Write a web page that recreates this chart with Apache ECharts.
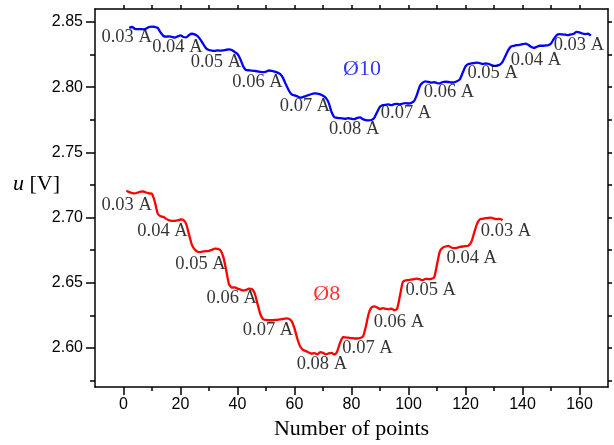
<!DOCTYPE html>
<html><head><meta charset="utf-8">
<script src="https://cdn.jsdelivr.net/npm/echarts@6/dist/echarts.min.js"></script>
<style>html,body{margin:0;padding:0;background:#fff}#c{width:614px;height:445px}</style>
</head><body><div id="c"></div>
<script>
// ---- data ----
const blueStart = 2;
const blueValues = [
 2.8455,2.8462,2.8448,2.8445,2.8446,2.8444,2.8450,2.8462,2.8465,2.8462,
 2.8455,2.8420,2.8393,2.8388,2.8390,2.8386,2.8380,2.8390,2.8398,2.8385,
 2.8382,2.8400,2.8410,2.8405,2.8392,2.8365,2.8330,2.8298,2.8285,2.8280,
 2.8278,2.8282,2.8280,2.8283,2.8287,2.8290,2.8285,2.8270,2.8255,2.8215,
 2.8160,2.8132,2.8130,2.8128,2.8125,2.8122,2.8118,2.8115,2.8120,2.8128,
 2.8126,2.8120,2.8112,2.8100,2.8070,2.8020,2.7975,2.7945,2.7938,2.7930,
 2.7920,2.7925,2.7932,2.7940,2.7948,2.7952,2.7950,2.7945,2.7935,2.7918,
 2.7880,2.7810,2.7770,2.7765,2.7762,2.7760,2.7758,2.7762,2.7758,2.7755,
 2.7765,2.7768,2.7755,2.7748,2.7745,2.7748,2.7765,2.7810,2.7850,2.7862,
 2.7865,2.7868,2.7862,2.7870,2.7872,2.7868,2.7875,2.7878,2.7875,2.7880,
 2.7895,2.7945,2.8010,2.8035,2.8045,2.8040,2.8035,2.8038,2.8032,2.8030,
 2.8040,2.8042,2.8040,2.8036,2.8038,2.8045,2.8060,2.8110,2.8160,2.8178,
 2.8182,2.8185,2.8188,2.8185,2.8178,2.8182,2.8180,2.8170,2.8163,2.8165,
 2.8172,2.8195,2.8240,2.8285,2.8312,2.8318,2.8322,2.8325,2.8330,2.8335,
 2.8325,2.8310,2.8302,2.8310,2.8318,2.8318,2.8320,2.8322,2.8335,2.8370,
 2.8400,2.8408,2.8405,2.8403,2.8400,2.8405,2.8410,2.8425,2.8420,2.8412,
 2.8408,2.8410,2.8395
];
const redStart = 1;
const redValues = [
 2.7205,2.7195,2.7188,2.7186,2.7192,2.7198,2.7200,2.7192,2.7185,2.7182,
 2.7120,2.7030,2.7010,2.7005,2.6990,2.6978,2.6975,2.6975,2.6978,2.6985,
 2.6982,2.6950,2.6870,2.6790,2.6755,2.6738,2.6735,2.6740,2.6742,2.6745,
 2.6752,2.6762,2.6760,2.6750,2.6700,2.6600,2.6490,2.6462,2.6465,2.6455,
 2.6448,2.6440,2.6445,2.6455,2.6452,2.6420,2.6340,2.6260,2.6220,2.6215,
 2.6212,2.6212,2.6214,2.6215,2.6218,2.6222,2.6226,2.6224,2.6205,2.6150,
 2.6070,2.6010,2.5985,2.5975,2.5965,2.5955,2.5960,2.5950,2.5968,2.5962,
 2.5950,2.5958,2.5962,2.5950,2.5975,2.6040,2.6082,2.6080,2.6078,2.6075,
 2.6072,2.6072,2.6076,2.6085,2.6160,2.6260,2.6310,2.6318,2.6310,2.6298,
 2.6305,2.6300,2.6296,2.6302,2.6288,2.6300,2.6400,2.6505,2.6518,2.6520,
 2.6524,2.6528,2.6532,2.6526,2.6520,2.6530,2.6528,2.6530,2.6540,2.6640,
 2.6740,2.6770,2.6778,2.6782,2.6770,2.6765,2.6768,2.6775,2.6778,2.6780,
 2.6785,2.6810,2.6880,2.6950,2.6985,2.6990,2.6995,2.6998,2.7000,2.6992,
 2.6988,2.6990,2.6980
];
const currentLabels = ['0.03 A','0.04 A','0.05 A','0.06 A','0.07 A','0.08 A','0.07 A','0.06 A','0.05 A','0.04 A','0.03 A'];
const blueLabelX = [1.1,18.9,32.4,47.0,63.7,80.9,99.1,114.2,129.5,144.7,159.8];
const blueLabelY = [2.8386,2.8309,2.8194,2.8040,2.7852,2.7682,2.7798,2.7963,2.8105,2.8205,2.8321];
const redLabelX = [1.1,13.7,27.0,38.0,50.7,69.6,85.6,96.6,107.8,122.2,134.2];
const redLabelY = [2.7098,2.6892,2.6644,2.6382,2.6136,2.5875,2.5998,2.6200,2.6444,2.6688,2.6892];
const seriesNames = ['Ø10','Ø8'];
const seriesNameX = [83.7, 71.3];
const seriesNameY = [2.8136, 2.6413];
const xMajorTicks = [0,20,40,60,80,100,120,140,160];
const xMinorTicks = [10,30,50,70,90,110,130,150];
const yMajorTicks = [2.60,2.65,2.70,2.75,2.80,2.85];
const yMinorTicks = [2.575,2.625,2.675,2.725,2.775,2.825];
const xTitle = 'Number of points';

// ---- chart ----
const X_MIN = -10, X_MAX = 170, Y_MIN = 2.57, Y_MAX = 2.86;
const serif = 'Liberation Serif';
const sans = 'Liberation Sans';
const black = '#000';
function xAx(pos, ticks, len, showLine, showLabels, extra) {
  return Object.assign({
    type: 'value', position: pos, min: X_MIN, max: X_MAX,
    axisLine: {show: showLine, onZero: false, lineStyle: {color: black, width: 1.5}},
    axisTick: {show: true, customValues: ticks, length: len, inside: false, lineStyle: {color: black, width: 1.5}},
    axisLabel: showLabels ? {show: true, customValues: ticks, color: black, fontFamily: sans, fontSize: 16, margin: 10} : {show: false},
    splitLine: {show: false}
  }, extra || {});
}
function yAx(pos, ticks, len, showLine, showLabels) {
  return {
    type: 'value', position: pos, min: Y_MIN, max: Y_MAX,
    axisLine: {show: showLine, onZero: false, lineStyle: {color: black, width: 1.5}},
    axisTick: {show: true, customValues: ticks, length: len, inside: false, lineStyle: {color: black, width: 1.5}},
    axisLabel: showLabels ? {show: true, customValues: ticks, color: black, fontFamily: sans, fontSize: 16, margin: 12,
      formatter: v => v.toFixed(2)} : {show: false},
    splitLine: {show: false}
  };
}
const allX = xMajorTicks.concat(xMinorTicks);
const allY = yMajorTicks.concat(yMinorTicks);
const labelData = [];
currentLabels.forEach((t, i) => labelData.push([blueLabelX[i], blueLabelY[i], t]));
currentLabels.forEach((t, i) => labelData.push([redLabelX[i], redLabelY[i], t]));

const chart = echarts.init(document.getElementById('c'), null, {renderer: 'canvas'});
chart.setOption({
  animation: false,
  backgroundColor: '#fff',
  grid: {left: 95, right: 6, top: 9, bottom: 58, containLabel: false},
  xAxis: [
    xAx('bottom', xMajorTicks, 8, true, true, {
      name: xTitle, nameLocation: 'middle', nameGap: 29,
      nameTextStyle: {color: black, fontFamily: serif, fontSize: 22}
    }),
    xAx('bottom', xMinorTicks, 4, false, false),
    xAx('top', allX, 4, true, false)
  ],
  yAxis: [
    yAx('left', yMajorTicks, 9, true, true),
    yAx('left', yMinorTicks, 5, false, false),
    yAx('right', allY, 4, true, false)
  ],
  graphic: [{
    type: 'text', left: 13, top: 173,
    style: {
      text: '{i|u} [V]', fill: black, font: '22px "Liberation Serif"',
      rich: {i: {fontStyle: 'italic', fontFamily: serif, fontSize: 22, fill: black}}
    }
  }],
  series: [
    {type: 'line', name: 'Ø10', xAxisIndex: 0, yAxisIndex: 0, showSymbol: false, symbol: 'none',
     smooth: 0.2, lineStyle: {color: '#0000ff', width: 2.3}, z: 3,
     data: blueValues.map((v, i) => [blueStart + i, v])},
    {type: 'line', name: 'Ø8', xAxisIndex: 0, yAxisIndex: 0, showSymbol: false, symbol: 'none',
     smooth: 0.2, lineStyle: {color: '#ff0000', width: 2.3}, z: 3,
     data: redValues.map((v, i) => [redStart + i, v])},
    {type: 'scatter', xAxisIndex: 0, yAxisIndex: 0, symbolSize: 1, silent: true, z: 5,
     itemStyle: {color: 'rgba(0,0,0,0)'},
     label: {show: true, position: 'inside', formatter: p => p.value[2], color: black, fontFamily: serif, fontSize: 18.5},
     data: labelData},
    {type: 'scatter', xAxisIndex: 0, yAxisIndex: 0, symbolSize: 1, silent: true, z: 5,
     itemStyle: {color: 'rgba(0,0,0,0)'},
     label: {show: true, position: 'inside', formatter: p => p.value[2], fontFamily: serif, fontSize: 22},
     data: seriesNames.map((n, i) => ({value: [seriesNameX[i], seriesNameY[i], n],
       label: {color: i === 0 ? '#0000ff' : '#ff0000'}}))}
  ]
});
</script>
</body></html>
